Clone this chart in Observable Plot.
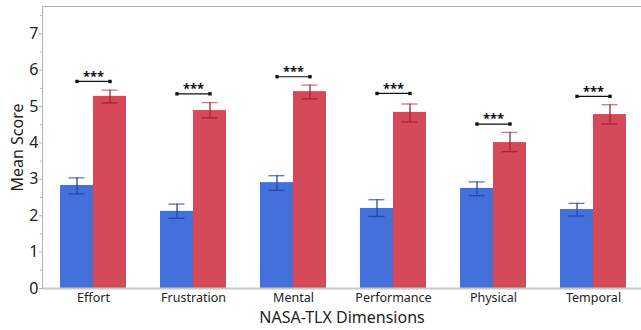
<!DOCTYPE html>
<html><head><meta charset="utf-8">
<script src="https://cdn.jsdelivr.net/npm/d3@7"></script>
<script src="https://cdn.jsdelivr.net/npm/@observablehq/plot@0.6"></script>
<style>body{margin:0;background:#fff;font-family:"Noto Sans",sans-serif}</style>
</head><body><div id="chart"></div>
<script>
const dimensions = ["Effort","Frustration","Mental","Performance","Physical","Temporal"];
const blueMean = [2.83,2.12,2.91,2.20,2.75,2.17];
const blueLow  = [2.60,1.93,2.70,1.98,2.55,1.99];
const blueHigh = [3.04,2.32,3.10,2.44,2.93,2.34];
const redMean  = [5.28,4.89,5.41,4.84,4.01,4.78];
const redLow   = [5.10,4.69,5.21,4.58,3.76,4.52];
const redHigh  = [5.45,5.11,5.59,5.07,4.29,5.05];
const sigY     = [5.69,5.35,5.82,5.36,4.52,5.28];
const sigLabels = ["***","***","***","***","***","***"];
const yTicks = [0,1,2,3,4,5,6,7];
const yMinorTicks = [0.5,1.5,2.5,3.5,4.5,5.5,6.5,7.5];
const yMax = 7.75;

const rows = dimensions.map((d,i)=>({d, bm:blueMean[i], bl:blueLow[i], bh:blueHigh[i], rm:redMean[i], rl:redLow[i], rh:redHigh[i], s:sigY[i], lab:sigLabels[i]}));

const BLUE = "#4470dc", RED = "#d44a5a", BLUE_E = "#2747a8", RED_E = "#a52336", AX = "#b4b4b4", TXT = "#222";

const chart = Plot.plot({
  width: 641, height: 330,
  marginLeft: 42, marginRight: 0, marginTop: 6, marginBottom: 42,
  style: {fontFamily: "'Noto Sans', sans-serif", color: TXT, background: "#fff"},
  x: {domain: dimensions, range: [42, 644], paddingInner: 0.34, paddingOuter: 0.18, align: 0.5, round: false, label: null},
  y: {domain: [0, yMax], label: null},
  marks: [
    Plot.barY(rows, {x: "d", y: "bm", fill: BLUE, insetRight: 32.5}),
    Plot.barY(rows, {x: "d", y: "rm", fill: RED, insetLeft: 33}),
    Plot.ruleX(rows, {x: "d", y1: "bl", y2: "bh", dx: -16.5, stroke: BLUE_E, strokeWidth: 1.3}),
    Plot.ruleX(rows, {x: "d", y1: "rl", y2: "rh", dx: 16.5, stroke: RED_E, strokeWidth: 1.3}),
    Plot.tickY(rows, {x: "d", y: "bh", insetLeft: 8.5, insetRight: 41.5, stroke: BLUE_E, strokeWidth: 1.3, strokeOpacity: 0.75}),
    Plot.tickY(rows, {x: "d", y: "bl", insetLeft: 8.5, insetRight: 41.5, stroke: BLUE_E, strokeWidth: 1.3}),
    Plot.tickY(rows, {x: "d", y: "rh", insetLeft: 41.5, insetRight: 8.5, stroke: RED_E, strokeWidth: 1.3, strokeOpacity: 0.6}),
    Plot.tickY(rows, {x: "d", y: "rl", insetLeft: 41.5, insetRight: 8.5, stroke: RED_E, strokeWidth: 1.3}),
    Plot.tickY(rows, {x: "d", y: "s", insetLeft: 16.5, insetRight: 16.5, stroke: "#111", strokeWidth: 1.2}),
    Plot.dot(rows, {x: "d", y: "s", dx: -16.5, symbol: "square", r: 1.9, fill: "#111", stroke: null}),
    Plot.dot(rows, {x: "d", y: "s", dx: 16.5, symbol: "square", r: 1.9, fill: "#111", stroke: null}),
    Plot.text(rows, {x: "d", y: "s", text: "lab", dy: -5, fontSize: 13, fontWeight: "bold", fill: "#111"}),
    Plot.ruleY([0], {stroke: "#c8c8c8", strokeWidth: 2}),
    Plot.ruleY([yMax], {stroke: AX, strokeWidth: 1}),
    Plot.frame({anchor: "left", stroke: AX}),
    Plot.axisY({ticks: yMinorTicks, tickSize: 2, text: null, stroke: AX, label: null}),
    Plot.axisY({ticks: yTicks, tickSize: 3, tickPadding: 1, fontSize: 16, stroke: AX, fill: TXT, label: null}),
    Plot.axisX({tickSize: 0, tickPadding: 5, fontSize: 12.5, fill: TXT, label: null}),
    Plot.text(["NASA-TLX Dimensions"], {frameAnchor: "bottom", lineAnchor: "middle", textAnchor: "middle", dy: 29, fontSize: 16, fill: TXT}),
    Plot.text(["Mean Score"], {frameAnchor: "left", lineAnchor: "middle", textAnchor: "middle", rotate: -90, dx: -25, fontSize: 16, fill: TXT})
  ]
});
document.getElementById("chart").appendChild(chart);
</script>
</body></html>
